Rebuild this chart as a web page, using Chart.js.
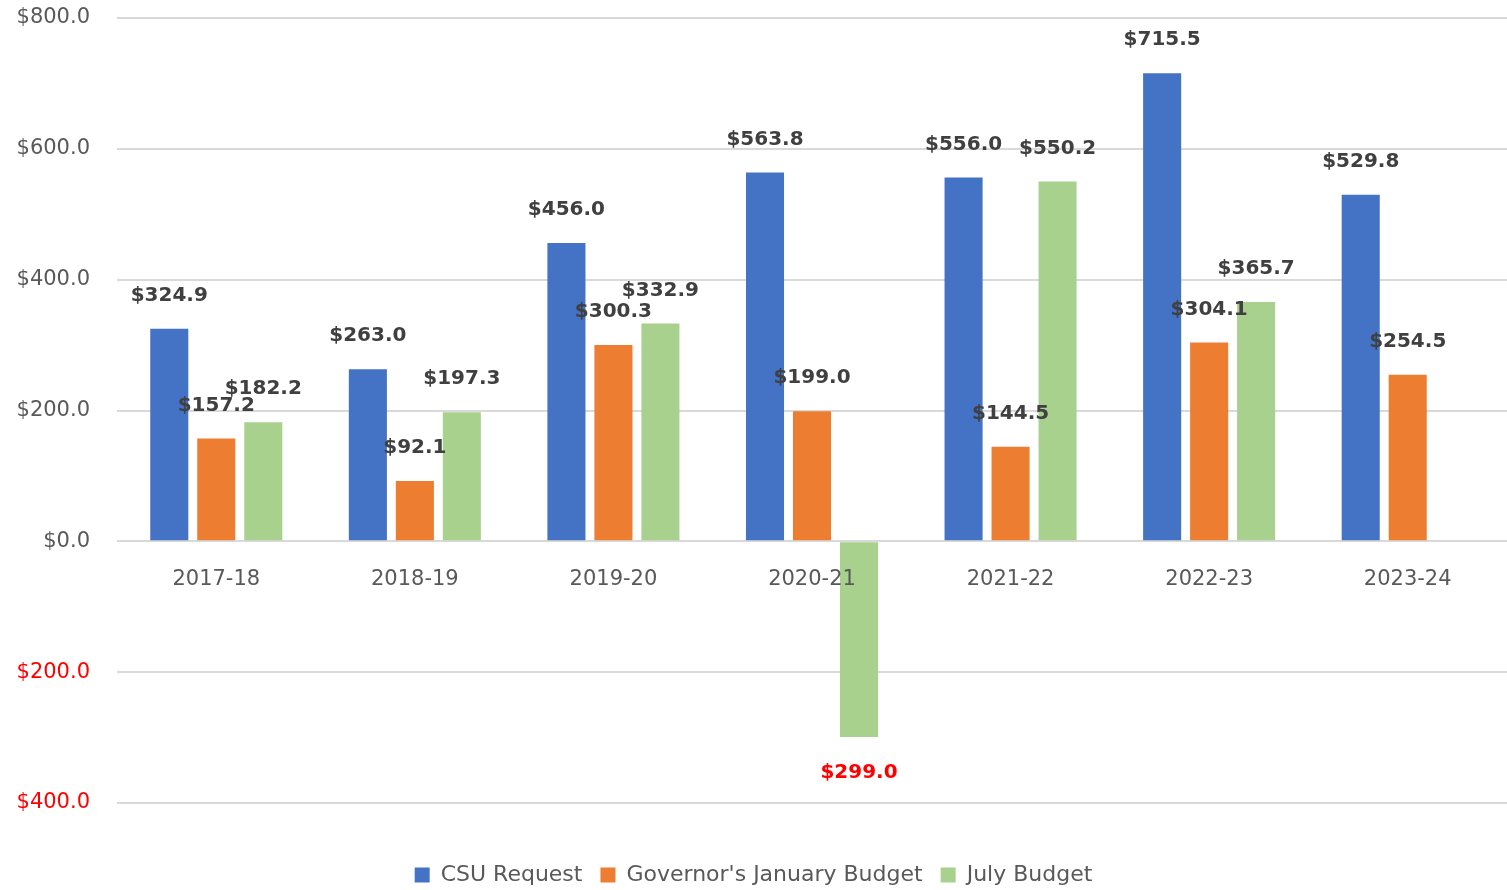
<!DOCTYPE html>
<html>
<head>
<meta charset="utf-8">
<script src="https://cdn.jsdelivr.net/npm/chart.js@4"></script>
<style>
  html, body { margin: 0; padding: 0; background: #fff; }
  #wrap { width: 1507px; height: 890px; position: relative; }
</style>
</head>
<body>
<div id="wrap"><canvas id="budget"></canvas></div>
<script>
'use strict';

const years = ['2017-18', '2018-19', '2019-20', '2020-21', '2021-22', '2022-23', '2023-24'];
const csuRequest = [324.9, 263.0, 456.0, 563.8, 556.0, 715.5, 529.8];
const governorJanuary = [157.2, 92.1, 300.3, 199.0, 144.5, 304.1, 254.5];
const julyBudget = [182.2, 197.3, 332.9, -299.0, 550.2, 365.7, null];

const money = v => '$' + Math.abs(v).toFixed(1);
const GREY = '#595959';

// value labels above (or below, for negatives) each bar
const barLabels = {
  id: 'barLabels',
  afterDatasetsDraw(chart) {
    const ctx = chart.ctx;
    ctx.save();
    ctx.font = 'bold 20px "DejaVu Sans"';
    ctx.textAlign = 'center';
    ctx.textBaseline = 'middle';
    chart.data.datasets.forEach((ds, i) => {
      chart.getDatasetMeta(i).data.forEach((bar, j) => {
        const v = ds.data[j];
        if (v === null || v === undefined) return;
        ctx.fillStyle = v < 0 ? '#FF0000' : '#404040';
        const y = v < 0 ? bar.y + 36 : bar.y - 33;
        ctx.fillText(money(v), bar.x, y);
      });
    });
    ctx.restore();
  }
};

const ctx = document.getElementById('budget').getContext('2d');
new Chart(ctx, {
  type: 'bar',
  data: {
    labels: years,
    datasets: [
      { label: 'CSU Request', data: csuRequest, backgroundColor: '#4472C4' },
      { label: "Governor's January Budget", data: governorJanuary, backgroundColor: '#ED7D31' },
      { label: 'July Budget', data: julyBudget, backgroundColor: '#A9D18E' }
    ]
  },
  options: {
    animation: false,
    responsive: true,
    maintainAspectRatio: false,
    layout: { padding: { top: 18, right: 0, bottom: -6, left: 0 } },
    datasets: { bar: { categoryPercentage: 0.71, barPercentage: 0.81 } },
    scales: {
      x: {
        position: { y: 0 },
        grid: { display: false },
        border: { display: false },
        ticks: { z: 1, color: GREY, font: { family: 'DejaVu Sans', size: 21 }, padding: 18 }
      },
      y: {
        min: -400,
        max: 800,
        ticks: {
          stepSize: 200,
          padding: 0,
          font: { family: 'DejaVu Sans', size: 21 },
          color: c => (c.tick && c.tick.value < 0 ? '#FF0000' : GREY),
          callback: v => money(v)
        },
        grid: { color: '#D9D9D9', lineWidth: 2, tickLength: 27, tickColor: 'rgba(0,0,0,0)' },
        border: { display: false },
        afterFit: s => { s.width = 117; }
      }
    },
    plugins: {
      // empty bottom title used only as a spacer above the legend
      title: {
        display: true,
        text: '',
        position: 'bottom',
        weight: 500,
        padding: 0,
        font: { size: 43, lineHeight: 1 }
      },
      legend: {
        position: 'bottom',
        labels: {
          color: GREY,
          font: { family: 'DejaVu Sans', size: 22 },
          boxWidth: 15,
          boxHeight: 15,
          padding: 18
        }
      },
      tooltip: { enabled: false }
    }
  },
  plugins: [barLabels]
});
</script>
</body>
</html>
